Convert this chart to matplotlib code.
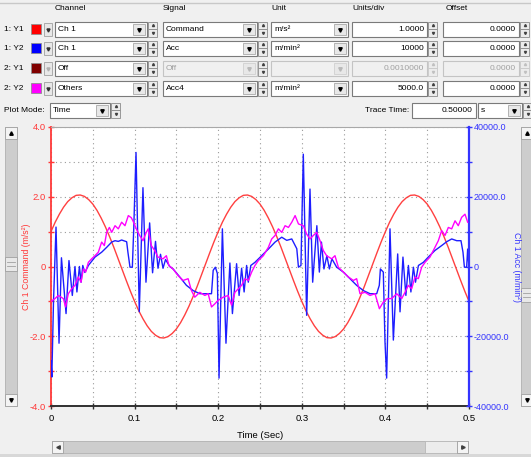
import numpy as np
import matplotlib
matplotlib.use("Agg")
import matplotlib.pyplot as plt
from matplotlib.patches import Rectangle

plt.rcParams['font.family'] = ['Liberation Sans', 'DejaVu Sans']

# --- Ch 1 Command (m/s^2), sampled every 5 ms ---
cmd_time = np.linspace(0, 0.5, 101)
cmd_values = [
    1.00, 1.27, 1.50, 1.70, 1.86, 1.97, 2.04, 2.05, 2.01, 1.92, 1.79, 1.61, 1.39, 1.14, 0.86, 0.56, 0.24, -0.08, -0.40, -0.71,
    -1.00, -1.27, -1.50, -1.70, -1.86, -1.97, -2.04, -2.05, -2.01, -1.92, -1.79, -1.61, -1.39, -1.14, -0.86, -0.56, -0.24, 0.08, 0.40, 0.71,
    1.00, 1.27, 1.50, 1.70, 1.86, 1.97, 2.04, 2.05, 2.01, 1.92, 1.79, 1.61, 1.39, 1.14, 0.86, 0.56, 0.24, -0.08, -0.40, -0.71,
    -1.00, -1.27, -1.50, -1.70, -1.86, -1.97, -2.04, -2.05, -2.01, -1.92, -1.79, -1.61, -1.39, -1.14, -0.86, -0.56, -0.24, 0.08, 0.40, 0.71,
    1.00, 1.27, 1.50, 1.70, 1.86, 1.97, 2.04, 2.05, 2.01, 1.92, 1.79, 1.61, 1.39, 1.14, 0.86, 0.56, 0.24, -0.08, -0.40, -0.71,
    -1.00,
]

# --- Ch 1 Acc (m/min^2) ---
acc_time = [
    0.000, 0.001, 0.003, 0.006, 0.0096, 0.0125, 0.018, 0.0215, 0.0255, 0.0287,
    0.031, 0.034, 0.036, 0.038, 0.0405, 0.0447, 0.0526, 0.0606, 0.0666, 0.0726,
    0.0766, 0.0805, 0.0845, 0.0905, 0.092, 0.0945, 0.0973, 0.099,
    0.1017, 0.1056, 0.110, 0.1136, 0.118, 0.1215, 0.125, 0.128, 0.131, 0.134,
    0.137, 0.142, 0.146, 0.154, 0.162, 0.170, 0.178, 0.186, 0.192, 0.194,
    0.1966, 0.199,
    0.201, 0.205, 0.2093, 0.214, 0.217, 0.222, 0.225, 0.228, 0.231, 0.234,
    0.236, 0.239, 0.244, 0.252, 0.260, 0.268, 0.276, 0.282, 0.288, 0.294,
    0.296, 0.299, 0.300,
    0.3018, 0.3058, 0.3098, 0.313, 0.318, 0.321, 0.3235, 0.3265, 0.330, 0.333,
    0.336, 0.3417, 0.3497, 0.3577, 0.3656, 0.3736, 0.3816, 0.3896, 0.3927, 0.394,
    0.3975, 0.3995,
    0.4015, 0.4055, 0.4095, 0.4147, 0.4175, 0.421, 0.4245, 0.4275, 0.4305, 0.4335,
    0.436, 0.4395, 0.4454, 0.4513, 0.4593, 0.4673, 0.4733, 0.4793, 0.4853, 0.4904,
    0.4928, 0.4945, 0.4972, 0.4984, 0.500,
]
acc_values = [
    -27000, -31700, -10000, 11300, -22000, 2500, -13500, 1700, -8300, 0,
    -7300, 0, -4500, 300, -1700, 300, 2700, 4100, 5500, 7000,
    7400, 7200, 7600, 7100, 4100, -200, -200, 11000,
    32700, -13000, 22600, -4500, 12500, -1800, 7200, -500, 3500, -500,
    2000, 0, -700, -3000, -5400, -6900, -7800, -7800, -7800, -1100,
    -200, -2000,
    -32000, 10800, -22000, 1000, -13500, 800, -8300, -500, -7300, 300,
    -4500, 300, 1200, 3100, 5000, 7000, 8400, 7500, 7900, 5100,
    -200, 300, 12000,
    32200, -14000, 22200, -4500, 11700, -1600, 7000, -700, 3100, -700,
    2200, -200, -1600, -3500, -5400, -6900, -7800, -7800, -5400, -700,
    -1600, -21500,
    -32000, 10800, -21100, 3600, -13000, 2700, -8300, 300, -7300, -200,
    -4500, 300, 1200, 2700, 4600, 6000, 7100, 7900, 7400, 7400,
    4100, -200, -200, 5000, -200,
]

# --- Others Acc4 (m/min^2, 5000 per div) ---
acc4_time = [
    0.0000, 0.0048, 0.0088, 0.0148, 0.0175, 0.0207, 0.0247, 0.0287, 0.0327, 0.0359,
    0.0387, 0.0415, 0.0447, 0.0486, 0.0526, 0.0566, 0.0606, 0.0638, 0.0666, 0.0698,
    0.0726, 0.0766, 0.0805, 0.0845, 0.0885, 0.0925, 0.0960, 0.0980, 0.1020, 0.1060,
    0.1100, 0.1140, 0.1163, 0.1200, 0.1240, 0.1280, 0.1340, 0.1380, 0.1410, 0.1460,
    0.1520, 0.1580, 0.1640, 0.1680, 0.1720, 0.1780, 0.1840, 0.1880, 0.1920, 0.1960,
    0.2000, 0.2060, 0.2120, 0.2160, 0.2200, 0.2240, 0.2280, 0.2320, 0.2360, 0.2400,
    0.2440, 0.2480, 0.2540, 0.2600, 0.2640, 0.2680, 0.2720, 0.2760, 0.2800, 0.2840,
    0.2880, 0.2920, 0.2960, 0.3018, 0.3058, 0.3098, 0.3138, 0.3178, 0.3218, 0.3257,
    0.3297, 0.3357, 0.3397, 0.3437, 0.3497, 0.3557, 0.3617, 0.3656, 0.3696, 0.3756,
    0.3816, 0.3876, 0.3928, 0.3975, 0.4023, 0.4075, 0.4135, 0.4195, 0.4235, 0.4274,
    0.4314, 0.4354, 0.4394, 0.4434, 0.4474, 0.4533, 0.4593, 0.4633, 0.4673, 0.4713,
    0.4753, 0.4793, 0.4833, 0.4872, 0.4912, 0.4952, 0.4984,
]
acc4_values = [
    -5000, -4600, -4150, -4600, -5800, -3900, -3200, -2700, -1500, -2250,
    -350, -800, 600, 1100, 1550, 2050, 3500, 3000, 4900, 5600,
    4900, 5850, 5400, 6350, 5850, 7300, 7000, 6550, 5400, 4450,
    3700, 4900, 5400, 3000, 2300, 1350, 1100, 1550, 150, -350,
    -1300, -2000, -1750, -3450, -4400, -3700, -4150, -3900, -5800, -5350,
    -4850, -4400, -4150, -5550, -3700, -3200, -2700, -1750, -2000, -800,
    150, 850, 1550, 2750, 3950, 4450, 5400, 4900, 5850, 5600,
    6350, 7300, 6100, 5850, 4650, 3950, 4450, 4900, 3700, 2300,
    1550, 1100, 1550, -100, -800, -1500, -2000, -1750, -3900, -3700,
    -4150, -3900, -6050, -5100, -4600, -4600, -3900, -4600, -3700, -2700,
    -3200, -1500, -1750, -100, 600, 1350, 2750, 3700, 5150, 4450,
    5600, 5400, 6550, 5850, 7050, 7500, 6350,
]

# --- control panel texts ---
header_labels = ["Channel", "Signal", "Unit", "Units/div", "Offset"]
row_names = ["1: Y1", "1: Y2", "2: Y1", "2: Y2"]
row_colors = ["#ff0000", "#0000ff", "#800000", "#ff00ff"]
row_channels = ["Ch 1", "Ch 1", "Off", "Others"]
row_signals = ["Command", "Acc", "Off", "Acc4"]
row_units = ["m/s²", "m/min²", "", "m/min²"]
row_scales = ["1.0000", "10000", "0.0010000", "5000.0"]
row_offsets = ["0.0000", "0.0000", "0.0000", "0.0000"]
row_enabled = [True, True, False, True]

left_ticks = [-4, -2, 0, 2, 4]
left_ticklabels = ["-4.0", "-2.0", "0", "2.0", "4.0"]
right_ticks = [-40000, -20000, 0, 20000, 40000]
right_ticklabels = ["-40000.0", "-20000.0", "0", "20000.0", "40000.0"]
time_ticks = [0, 0.1, 0.2, 0.3, 0.4, 0.5]
time_ticklabels = ["0", "0.1", "0.2", "0.3", "0.4", "0.5"]

W, H = 531, 457
BG = '#f0f0f0'
fig = plt.figure(figsize=(W / 100, H / 100), dpi=100, facecolor=BG)

# pixel canvas for the GUI widgets (y grows downward)
gui = fig.add_axes([0, 0, 1, 1])
gui.set_xlim(0, W)
gui.set_ylim(H, 0)
gui.axis('off')
FS = 6


def box(x0, x1, yc, face='white', edge='#7a7a7a', h=15):
    gui.add_patch(Rectangle((x0, yc - h / 2), x1 - x0, h, facecolor=face, edgecolor=edge, lw=0.8))


def combo(x0, x1, yc, text, enabled=True):
    box(x0, x1, yc, face='white' if enabled else BG, edge='#7a7a7a' if enabled else '#c4c4c4')
    gui.add_patch(Rectangle((x1 - 14, yc - 5.5), 12, 11, facecolor='#e8e8e8',
                            edgecolor='#a8a8a8' if enabled else '#d0d0d0', lw=0.6))
    gui.plot([x1 - 8], [yc + 0.5], marker='v', ms=2.5, color='black' if enabled else '#b8b8b8')
    gui.text(x0 + 3, yc + 0.5, text, fontsize=FS, va='center', color='black' if enabled else '#a0a0a0')


def textbox(x0, x1, yc, text, enabled=True):
    box(x0, x1, yc, face='white' if enabled else BG, edge='#7a7a7a' if enabled else '#c4c4c4')
    gui.text(x1 - 3, yc + 0.5, text, fontsize=FS, va='center', ha='right',
             color='black' if enabled else '#a0a0a0')


def spinner(x0, yc, enabled=True):
    edge = '#8a8a8a' if enabled else '#c8c8c8'
    for y0, m in ((yc - 7.5, '^'), (yc, 'v')):
        gui.add_patch(Rectangle((x0, y0), 9, 7.5, facecolor='#ececec', edgecolor=edge, lw=0.6))
        gui.plot([x0 + 4.5], [y0 + 3.75], marker=m, ms=1.5, color='#404040' if enabled else '#c0c0c0')


gui.plot([0, W], [3, 3], color='#c8c8c8', lw=1)

for x, lab in zip([55, 163, 271, 352, 446], header_labels):
    gui.text(x, 9, lab, fontsize=FS, va='center')

for i, yc in enumerate([29, 48, 68, 88]):
    en = row_enabled[i]
    gui.text(4, yc + 0.5, row_names[i], fontsize=FS, va='center')
    gui.add_patch(Rectangle((31, yc - 5), 10, 10, facecolor=row_colors[i], edgecolor='#909090', lw=0.6))
    gui.add_patch(Rectangle((44, yc - 6.5), 8, 13, facecolor='#e8e8e8', edgecolor='#a0a0a0', lw=0.6))
    gui.plot([48], [yc + 0.5], marker='v', ms=2.2, color='#303030' if i != 2 else '#b0b0b0')
    combo(55, 147, yc, row_channels[i])
    spinner(148, yc)
    combo(163, 257, yc, row_signals[i], en)
    spinner(258, yc)
    combo(271, 348, yc, row_units[i], en)
    textbox(352, 427, yc, row_scales[i], en)
    spinner(428, yc, en)
    textbox(443, 519, yc, row_offsets[i], en)
    spinner(520, yc, en)

gui.text(4, 110.5, "Plot Mode:", fontsize=FS, va='center')
combo(50, 110, 110, "Time")
spinner(111, 110)
gui.text(409, 110.5, "Trace Time:", fontsize=FS, va='center', ha='right')
textbox(412, 476, 110, "0.50000")
combo(478, 522, 110, "s")
spinner(523, 110)


def vscroll(x0, x1, y0, y1, thumb):
    gui.add_patch(Rectangle((x0, y0), x1 - x0, y1 - y0, facecolor='#cdcdcd', edgecolor='#b0b0b0', lw=0.6))
    for yb, m in ((y0, '^'), (y1 - 12, 'v')):
        gui.add_patch(Rectangle((x0, yb), x1 - x0, 12, facecolor='#f4f4f4', edgecolor='#a0a0a0', lw=0.6))
        gui.plot([(x0 + x1) / 2], [yb + 6], marker=m, ms=2.5, color='black')
    gui.add_patch(Rectangle((x0, thumb), x1 - x0, 14, facecolor='#e8e8e8', edgecolor='#a0a0a0', lw=0.6))
    gui.plot([x0 + 2, x1 - 2], [thumb + 5, thumb + 5], color='#a0a0a0', lw=0.6)
    gui.plot([x0 + 2, x1 - 2], [thumb + 9, thumb + 9], color='#a0a0a0', lw=0.6)


vscroll(5, 17, 127, 406, 257)
vscroll(521, 532, 127, 406, 288)

# horizontal scroll bar under the chart
gui.add_patch(Rectangle((52, 441), 416, 12, facecolor='#cdcdcd', edgecolor='#b0b0b0', lw=0.6))
gui.add_patch(Rectangle((425, 441), 32, 12, facecolor='#ececec', edgecolor='#b8b8b8', lw=0.6))
for xb, m in ((52, '<'), (457, '>')):
    gui.add_patch(Rectangle((xb, 441), 11, 12, facecolor='#f4f4f4', edgecolor='#a0a0a0', lw=0.6))
    gui.plot([xb + 5.5], [447], marker=m, ms=2.5, color='#404040')
gui.add_patch(Rectangle((0, 454), W, 4, facecolor='#d8d8d8', edgecolor='none'))

# --- chart ---
RED = '#ff3838'
BLUE = '#3434ff'
ax = fig.add_axes([51 / W, 1 - 406 / H, 418 / W, 279 / H])
ax.set_facecolor('white')
ax.set_xlim(0, 0.5)
ax.set_ylim(-4, 4)
ax.plot(cmd_time, cmd_values, color='#ff4040', lw=1.0)

ax.set_xticks(time_ticks)
ax.set_xticklabels(time_ticklabels)
ax.set_xticks(np.arange(0.05, 0.5, 0.1), minor=True)
ax.set_yticks(left_ticks)
ax.set_yticklabels(left_ticklabels)
ax.set_yticks([-3, -1, 1, 3], minor=True)
ax.grid(which='both', linestyle=(0, (1, 3)), color='#9a9a9a', lw=0.8)
ax.tick_params(axis='x', which='both', direction='inout', length=5, width=1, color='#303030',
               labelsize=6.8, pad=3)
ax.tick_params(axis='y', which='both', direction='inout', length=5, width=1, colors=RED,
               labelsize=6.8, pad=1)
ax.spines['left'].set_color(RED)
ax.spines['left'].set_linewidth(1.3)
ax.spines['bottom'].set_color('#303030')
ax.spines['bottom'].set_linewidth(1.4)
ax.spines['top'].set_color('#a8a8a8')
ax.spines['top'].set_linewidth(0.8)
ax.spines['right'].set_visible(False)
ax.set_ylabel("Ch 1 Command (m/s²)", color=RED, fontsize=6.3, va='center')
ax.yaxis.set_label_coords((27 - 51) / 418, 0.5)
ax.set_xlabel("Time (Sec)", fontsize=6.8, va='center')
ax.xaxis.set_label_coords(0.5, -(435 - 406) / 279)

ax2 = ax.twinx()
ax2.set_ylim(-40000, 40000)
ax2.plot(acc_time, acc_values, color='#1e1eff', lw=1.0)
ax2.set_yticks(right_ticks)
ax2.set_yticklabels(right_ticklabels)
ax2.set_yticks([-30000, -10000, 10000, 30000], minor=True)
ax2.tick_params(axis='y', which='both', direction='inout', length=5, width=1, colors=BLUE,
                labelsize=6.5, pad=1)
for s in ('left', 'top', 'bottom'):
    ax2.spines[s].set_visible(False)
ax2.spines['right'].set_color(BLUE)
ax2.spines['right'].set_linewidth(1.6)
ax2.set_ylabel("Ch 1 Acc (m/min²)", color=BLUE, fontsize=6.3, rotation=270, va='center')
ax2.yaxis.set_label_coords((516 - 51) / 418, 0.5)

ax3 = ax.twinx()
ax3.set_ylim(-20000, 20000)
ax3.plot(acc4_time, acc4_values, color='#ff00ff', lw=1.0)
ax3.axis('off')

fig.savefig('out.png', dpi=100, facecolor=BG)
